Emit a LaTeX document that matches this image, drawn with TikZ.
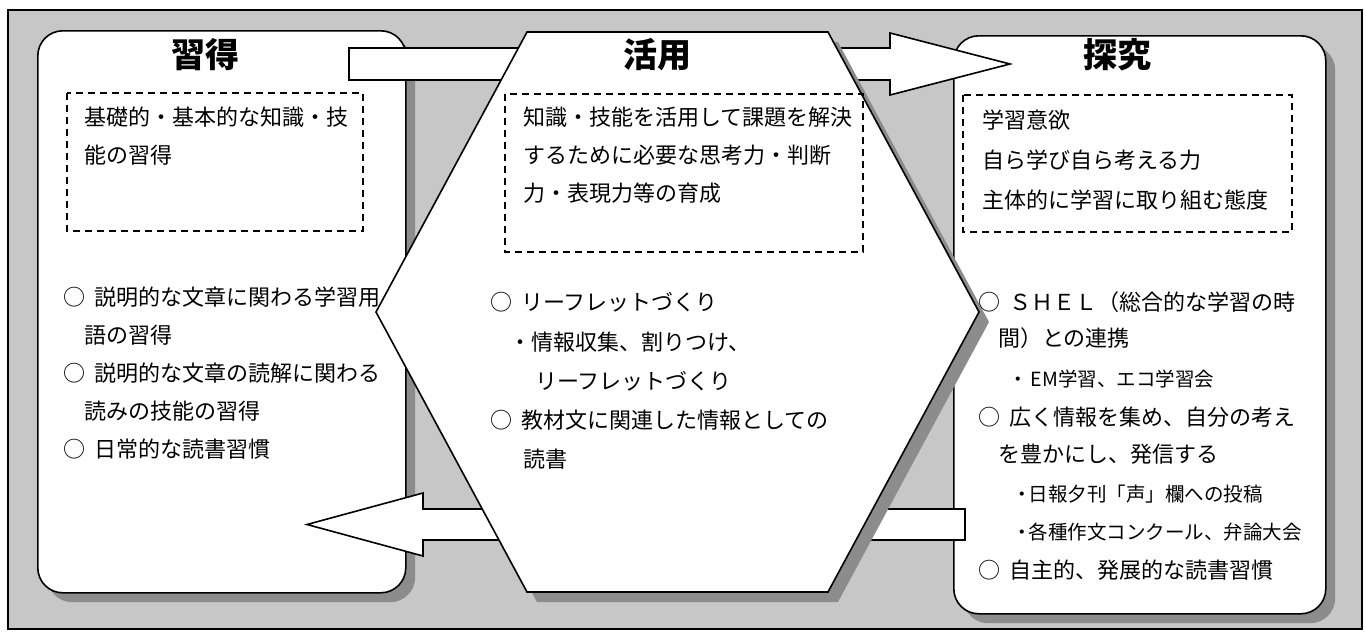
\documentclass[tikz,border=0pt]{standalone}
\usepackage{fontspec}
\setmainfont{Noto Sans CJK JP}
\definecolor{bgc}{gray}{0.78}
\definecolor{shc}{gray}{0.55}
\begin{document}
\begin{tikzpicture}[x=1pt,y=-1pt,
  frame/.style={draw=black,line width=1.2pt,fill=bgc},
  box/.style={draw=black,line width=1.6pt,fill=white,rounded corners=25pt,anchor=north west,inner sep=0pt},
  shade/.style={fill=shc,rounded corners=25pt,anchor=north west,inner sep=0pt},
  dbox/.style={draw=black,line width=1.3pt,dash pattern=on 7pt off 5pt},
  blockarrow/.style={draw=black,line width=1.6pt,fill=white,line join=miter},
  hexa/.style={draw=black,line width=1.6pt,fill=white,line join=miter},
  txt/.style={anchor=base west,inner sep=0pt,font=\fontsize{22pt}{26pt}\selectfont},
  subtxt/.style={anchor=base west,inner sep=0pt,font=\fontsize{19.5pt}{23pt}\selectfont},
  ttl/.style={anchor=base,inner sep=0pt,font=\fontsize{34pt}{40pt}\selectfont\bfseries}]
\path[use as bounding box] (0,0) rectangle (1366,632);
\draw[frame] (8,10) rectangle (1362,629);

% shadows of the boxes
\node[shade,minimum width=368pt,minimum height=562pt] (Lsh) at (47,40) {};
\node[shade,minimum width=372pt,minimum height=578pt] (Rsh) at (963,45) {};
% boxes
\node[box,minimum width=368pt,minimum height=562pt] (L) at (37,30) {};
\node[box,minimum width=372pt,minimum height=578pt] (R) at (953,35) {};

% arrows
\coordinate (a1t) at (1010,64);
\draw[blockarrow] (349,48) -- (890,48) -- (890,33) -- (a1t) -- (890,95) -- (890,80) -- (349,80) -- cycle;
\coordinate (a2t) at (307,524.5);
\draw[blockarrow] (965,509) -- (423,509) -- (423,493) -- (a2t) -- (423,556) -- (423,540) -- (965,540) -- cycle;

% hexagon
\coordinate (h1) at (527,32);
\coordinate (h2) at (828,32);
\coordinate (h3) at (979,312);
\coordinate (h4) at (828,592);
\coordinate (h5) at (527,592);
\coordinate (h6) at (376,312);
\fill[shc] ([shift={(10,10)}]h1) -- ([shift={(10,10)}]h2) -- ([shift={(10,10)}]h3) -- ([shift={(10,10)}]h4) -- ([shift={(10,10)}]h5) -- ([shift={(10,10)}]h6) -- cycle;
\draw[hexa] (h1) -- (h2) -- (h3) -- (h4) -- (h5) -- (h6) -- cycle;

% dashed boxes
\draw[dbox] (67,93) rectangle (363,231);
\draw[dbox] (505,94) rectangle (863,252);
\draw[dbox] (963,95) rectangle (1292,232);

% titles
\node[ttl] (t1) at (205,67) {習得};
\node[ttl] (t2) at (657,67) {活用};
\node[ttl] (t3) at (1117,67) {探究};

% left texts
\node[txt] (l1) at (84,125) {基礎的・基本的な知識・技};
\node[txt] (l2) at (84,163) {能の習得};
\node[txt] (l3) at (63,305) {○\hspace{9pt}説明的な文章に関わる学習用};
\node[txt] (l4) at (84,343) {語の習得};
\node[txt] (l5) at (63,381) {○\hspace{9pt}説明的な文章の読解に関わる};
\node[txt] (l6) at (84,419) {読みの技能の習得};
\node[txt] (l7) at (63,457) {○\hspace{9pt}日常的な読書習慣};

% center texts
\node[txt] (c1) at (523,125) {知識・技能を活用して課題を解決};
\node[txt] (c2) at (523,163) {するために必要な思考力・判断};
\node[txt] (c3) at (523,201) {力・表現力等の育成};
\node[txt] (c4) at (490,310) {○\hspace{9pt}リーフレットづくり};
\node[txt] (c5) at (509,350) {・情報収集、割りつけ、};
\node[txt] (c6) at (535,389) {リーフレットづくり};
\node[txt] (c7) at (490,428) {○\hspace{9pt}教材文に関連した情報としての};
\node[txt] (c8) at (523,467) {読書};

% right texts
\node[txt] (r1) at (982,128) {学習意欲};
\node[txt] (r2) at (982,168) {自ら学び自ら考える力};
\node[txt] (r3) at (982,208) {主体的に学習に取り組む態度};
\node[txt] (r4) at (978,310) {○\hspace{9pt}ＳＨＥＬ（総合的な学習の時};
\node[txt] (r5) at (998,346) {間）との連携};
\node[subtxt] (r6) at (1008,386) {・\hspace{3pt}EM学習、エコ学習会};
\node[txt] (r7) at (978,425) {○\hspace{9pt}広く情報を集め、自分の考え};
\node[txt] (r8) at (998,462) {を豊かにし、発信する};
\node[subtxt] (r9) at (1012,501) {・\hspace{-3pt}日報夕刊「声」欄への投稿};
\node[subtxt] (r10) at (1012,539) {・\hspace{-3pt}各種作文コンクール、弁論大会};
\node[txt] (r11) at (978,578) {○\hspace{9pt}自主的、発展的な読書習慣};
\end{tikzpicture}
\end{document}
